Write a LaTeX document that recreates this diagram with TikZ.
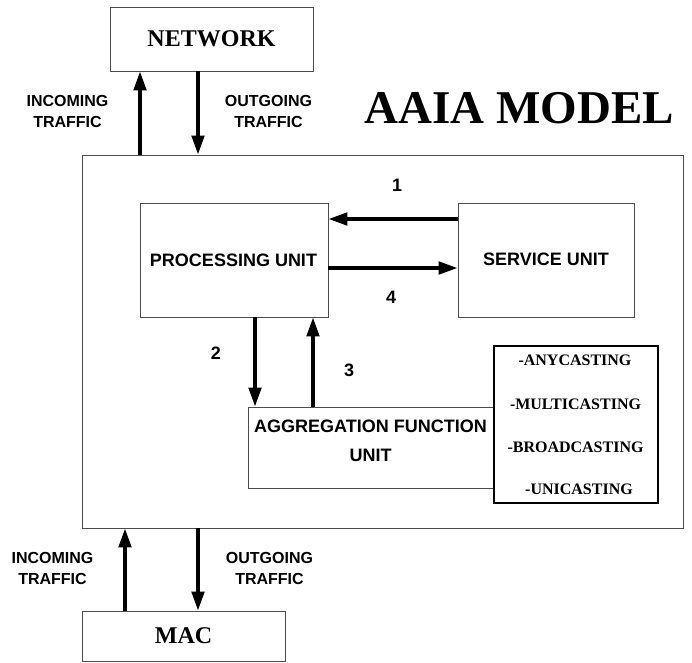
\documentclass[tikz,border=0pt]{standalone}
\usepackage{fontspec}
\setmainfont{Liberation Serif}
\setsansfont{Liberation Sans}
\usetikzlibrary{arrows.meta}
\begin{document}
\begin{tikzpicture}[x=1pt,y=-1pt,
  box/.style={draw=black!70, line width=0.9pt, rectangle, inner sep=0pt},
  arr/.style={line width=3.4pt, -{Triangle[length=19pt,width=12.5pt]}},
  sflab/.style={font=\sffamily\bfseries\fontsize{16}{19.2}\selectfont, align=center, inner sep=0pt},
  sfbig/.style={font=\sffamily\bfseries\fontsize{18}{21.6}\selectfont, align=center, inner sep=0pt},
  rmbig/.style={font=\rmfamily\bfseries\fontsize{24}{28}\selectfont},
  rmlist/.style={font=\rmfamily\bfseries\fontsize{16}{19}\selectfont, inner sep=0pt}
]
\useasboundingbox (0,0) rectangle (692,662);

% boxes
\node[box, rmbig, minimum width=203pt, minimum height=64pt] (network) at (211.5,39) {NETWORK};
\node[box, minimum width=601pt, minimum height=373pt] (outer) at (382.5,341.5) {};
\node[box, minimum width=188pt, minimum height=114pt] (proc) at (234,260) {};
\node[sfbig] (proctext) at (233.5,260) {PROCESSING UNIT};
\node[box, minimum width=176pt, minimum height=114pt] (serv) at (546,260) {};
\node[sfbig] (servtext) at (546,259) {SERVICE UNIT};
\node[box, minimum width=247pt, minimum height=81pt] (agg) at (371.5,447.5) {};
\node[sfbig] (aggtext) at (370.5,441) {AGGREGATION FUNCTION\\[7pt]UNIT};
\node[draw=black, line width=2pt, fill=white, minimum width=164pt, minimum height=157pt, inner sep=0pt] (list) at (576,424.5) {};
\node[rmlist] (l1) at (575,360.5) {-ANYCASTING};
\node[rmlist] (l2) at (575.5,404) {-MULTICASTING};
\node[rmlist] (l3) at (575.5,447.5) {-BROADCASTING};
\node[rmlist] (l4) at (579,489) {-UNICASTING};
\node[box, rmbig, minimum width=203pt, minimum height=50pt] (mac) at (183.5,636) {MAC};

% title
\node[font=\rmfamily\bfseries\fontsize{47}{52}\selectfont, inner sep=0pt] (title) at (519,108.5) {AAIA MODEL};

% traffic labels
\node[sflab] (tin) at (67.5,111.5) {INCOMING\\[2pt]TRAFFIC};
\node[sflab] (tout) at (268.5,111.5) {OUTGOING\\[2pt]TRAFFIC};
\node[sflab] (bin) at (52.5,568.5) {INCOMING\\[2pt]TRAFFIC};
\node[sflab] (bout) at (269.5,568.5) {OUTGOING\\[2pt]TRAFFIC};

% number labels
\node[sfbig] (n1) at (397,185) {1};
\node[sfbig] (n4) at (391,297) {4};
\node[sfbig] (n2) at (216,353) {2};
\node[sfbig] (n3) at (349,370) {3};

% coordinates for connector positions
\coordinate (xtin) at (140,0);
\coordinate (xtout) at (198,0);
\coordinate (xbin) at (125,0);
\coordinate (xbout) at (198,0);
\coordinate (y1) at (0,219);
\coordinate (y4) at (0,268);
\coordinate (x2) at (255,0);
\coordinate (x3) at (313,0);

% connectors
\draw[arr] (outer.north -| xtin) -- (network.south -| xtin);
\draw[arr] (network.south -| xtout) -- (outer.north -| xtout);
\draw[arr] (mac.north -| xbin) -- (outer.south -| xbin);
\draw[arr] (outer.south -| xbout) -- (mac.north -| xbout);
\draw[arr] (serv.west |- y1) -- (proc.east |- y1);
\draw[arr] (proc.east |- y4) -- (serv.west |- y4);
\draw[arr] (proc.south -| x2) -- (agg.north -| x2);
\draw[arr] (agg.north -| x3) -- (proc.south -| x3);
\end{tikzpicture}
\end{document}
